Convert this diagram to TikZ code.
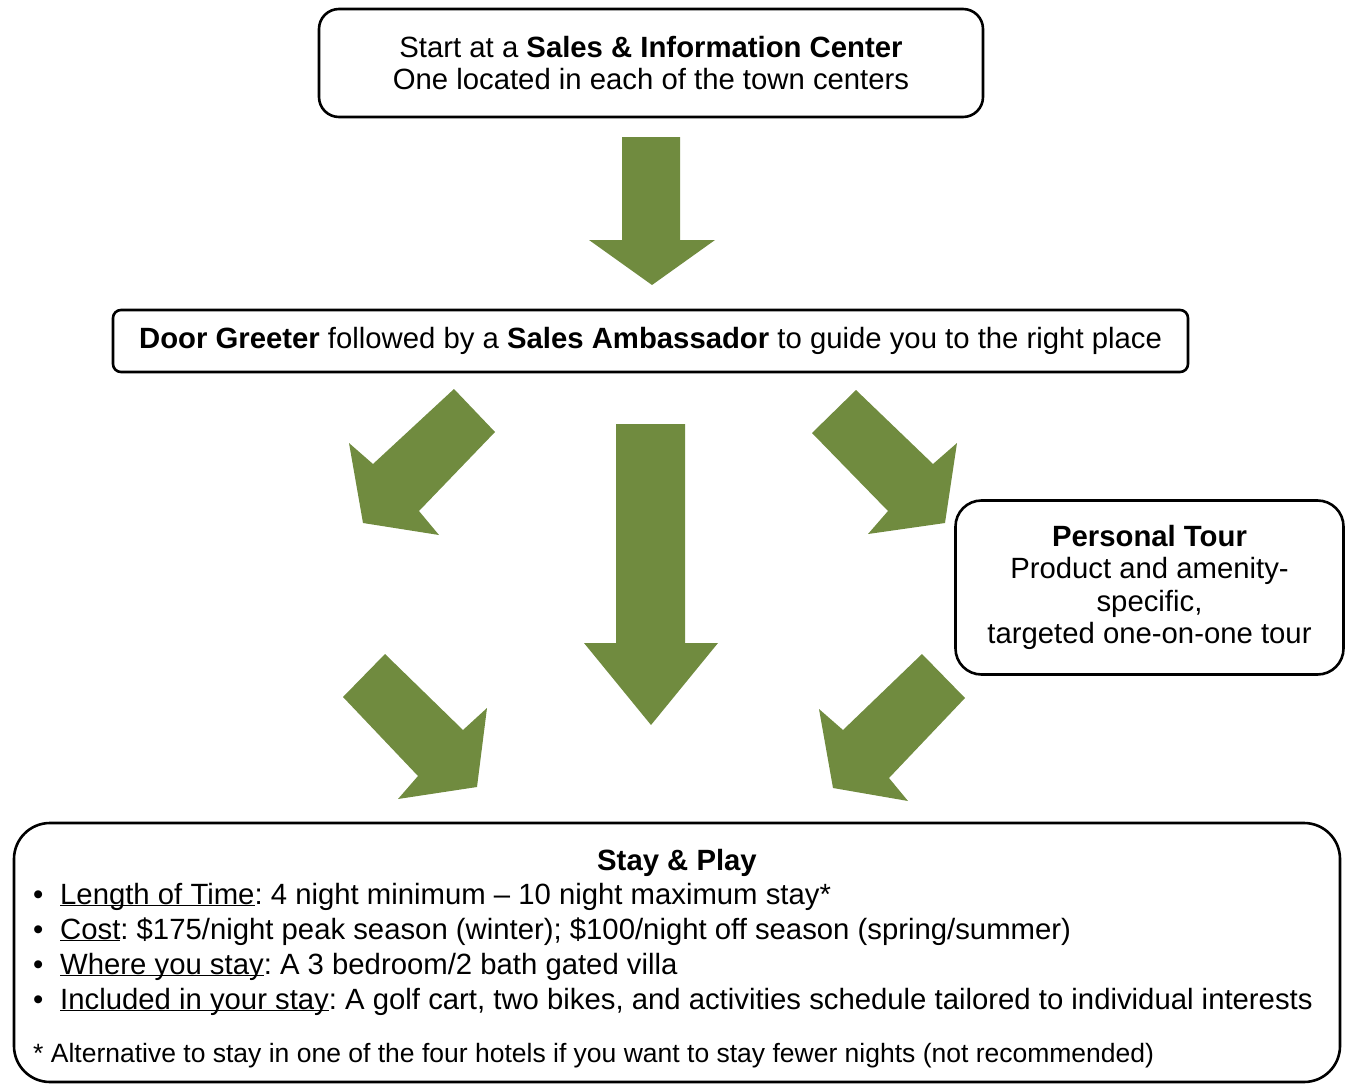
\documentclass[tikz,border=0pt]{standalone}
\usepackage{fontspec}
\setmainfont{Liberation Sans}
\usepackage{xcolor}
\definecolor{leafgreen}{RGB}{112,139,63}
\newcommand{\arrowcolor}{leafgreen}
\newcommand{\boxline}{2.6pt}
\newcommand{\mainsize}{\fontsize{29.3}{32.5}\selectfont}
\newcommand{\notesize}{\fontsize{26.5}{29}\selectfont}
\newcommand{\uterm}[1]{\underline{\smash{#1}}}
\newcommand{\bulletbox}{\makebox[27pt][l]{\textbullet}}
\frenchspacing

\begin{document}
\begin{tikzpicture}[x=1pt, y=-1pt,
    panel/.style={draw, line width=\boxline, align=center, font=\mainsize, inner sep=0pt},
    blockarrow/.style={fill=\arrowcolor},
    listline/.style={anchor=base west, inner sep=0pt, font=\mainsize}]
    \useasboundingbox (0,0) rectangle (1345,1084);

    % boxes
    \node[panel, rounded corners=20pt, minimum width=664, minimum height=108] (start) at (651,63)
        {Start at a \textbf{Sales \& Information Center}\\One located in each of the town centers};
    \node[panel, rounded corners=8pt, minimum width=1075, minimum height=62] (greeter) at (650.5,341)
        {\textbf{Door Greeter} followed by a \textbf{Sales Ambassador} to guide you to the right place};
    \node[panel, rounded corners=26pt, minimum width=388, minimum height=174] (tour) at (1149.5,587.5)
        {\textbf{Personal Tour}\\Product and amenity-\\specific,\\targeted one-on-one tour};
    \node[panel, rounded corners=36pt, minimum width=1326, minimum height=259] (stay) at (677,952.5) {};

    % arrows
    \fill[blockarrow] (622,137) -- (680,137) -- (680,240) -- (715,240) -- (652,285) -- (589,240) -- (622,240) -- cycle;
    \fill[blockarrow] (616,424) -- (685,424) -- (685,643) -- (718,643) -- (651,725) -- (584,643) -- (616,643) -- cycle;
    \fill[blockarrow] (454,389) -- (495,432) -- (419,511) -- (439,535) -- (363,523) -- (349,443) -- (373,464) -- cycle;
    \fill[blockarrow] (856,390) -- (933,464) -- (957,443) -- (945,523) -- (868,534) -- (888,511) -- (812,433) -- cycle;
    \fill[blockarrow] (385,654) -- (463,730) -- (487,708) -- (477,787) -- (398,799) -- (418,776) -- (343,697) -- cycle;
    \fill[blockarrow] (922,654) -- (965,698) -- (889,778) -- (908,801) -- (833,788) -- (819,709) -- (843,730) -- cycle;

    % stay and play text
    \node[anchor=base, inner sep=0pt, font=\mainsize] (title) at (677,870) {\textbf{Stay \& Play}};
    \node[listline] (length) at (33,904) {\bulletbox\uterm{Length of Time}: 4 night minimum – 10 night maximum stay*};
    \node[listline] (cost) at (33,939) {\bulletbox\uterm{Cost}: \$175/night peak season (winter); \$100/night off season (spring/summer)};
    \node[listline] (where) at (33,974) {\bulletbox\uterm{Where you stay}: A 3 bedroom/2 bath gated villa};
    \node[listline] (included) at (33,1009) {\bulletbox\uterm{Included in your stay}: A golf cart, two bikes, and activities schedule tailored to individual interests};
    \node[listline, font=\notesize] (note) at (33,1062) {* Alternative to stay in one of the four hotels if you want to stay fewer nights (not recommended)};
\end{tikzpicture}
\end{document}
